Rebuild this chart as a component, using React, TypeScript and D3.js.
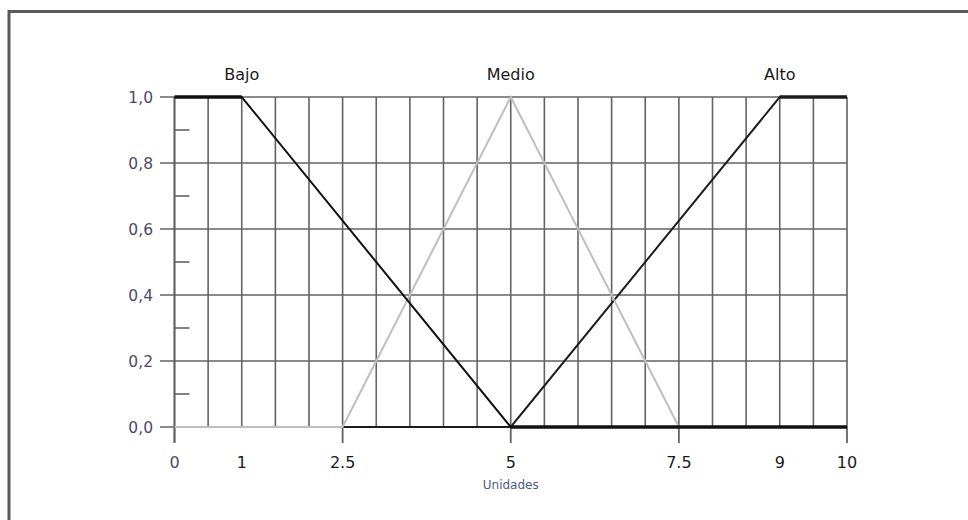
import { useMemo } from 'react'
import * as d3 from 'd3'

// membership functions
const bajoX = [0, 1, 5, 10]
const bajoY = [1, 1, 0, 0]
const medioX = [0, 2.5, 5, 7.5, 10]
const medioY = [0, 0, 1, 0, 0]
const altoX = [0, 5, 9, 10]
const altoY = [0, 0, 1, 1]

const setNames = ['Bajo', 'Medio', 'Alto']
const setPeaks = [1, 5, 9]

const xTickLabels = [0, 1, 2.5, 5, 7.5, 9, 10]
const xMajorTicks = [0, 2.5, 5, 7.5, 10]
const yTicks = [0, 0.2, 0.4, 0.6, 0.8, 1.0]
const yMinorTicks = [0.1, 0.3, 0.5, 0.7, 0.9]
const xAxisTitle = 'Unidades'

const W = 968
const H = 520
const FONT = '"DejaVu Sans", Verdana, sans-serif'

type Pt = [number, number]

export default function App() {
  const x = d3.scaleLinear().domain([0, 10]).range([174.5, 847])
  const y = d3.scaleLinear().domain([0, 1]).range([427, 97])

  const series = useMemo(
    () => [
      // drawn in this order so the overlaps look like the original
      { pts: altoX.map((v, i) => [v, altoY[i]] as Pt), color: '#1c1c1c', heavy: [1] },
      { pts: medioX.map((v, i) => [v, medioY[i]] as Pt), color: '#bfbfbf', heavy: [] as number[] },
      { pts: bajoX.map((v, i) => [v, bajoY[i]] as Pt), color: '#111', heavy: [0, 1] },
    ],
    []
  )

  const line = d3
    .line<Pt>()
    .x((d) => x(d[0]))
    .y((d) => y(d[1]))

  const gridX = d3.range(0, 10.001, 0.5)
  const gridColor = '#636363'

  return (
    <svg
      width={W}
      height={H}
      style={{ position: 'absolute', left: 0, top: 0, display: 'block', background: '#fff' }}
    >
      {/* outer frame, cut at right and bottom edges */}
      <rect x={9} y={11.5} width={W + 20} height={H + 20} fill="none" stroke="#5a5a5a" strokeWidth={3} />

      {/* vertical grid */}
      {gridX.map((v) => (
        <line key={'gx' + v} x1={x(v)} x2={x(v)} y1={y(1)} y2={y(0)} stroke={gridColor} strokeWidth={1.6} />
      ))}
      {/* horizontal grid + major y ticks */}
      {yTicks.map((v) => (
        <line key={'gy' + v} x1={160} x2={x(10)} y1={y(v)} y2={y(v)} stroke={gridColor} strokeWidth={1.6} />
      ))}
      {/* y axis line */}
      <line x1={x(0)} x2={x(0)} y1={y(1)} y2={443} stroke={gridColor} strokeWidth={1.8} />
      {/* minor y ticks pointing inward */}
      {yMinorTicks.map((v) => (
        <line key={'my' + v} x1={x(0)} x2={x(0) + 15} y1={y(v)} y2={y(v)} stroke={gridColor} strokeWidth={1.6} />
      ))}
      {/* major x ticks */}
      {xMajorTicks.map((v) => (
        <line key={'mx' + v} x1={x(v)} x2={x(v)} y1={y(0)} y2={443} stroke={gridColor} strokeWidth={1.8} />
      ))}

      {/* series */}
      {series.map((s, i) => (
        <g key={i}>
          <path d={line(s.pts) || ''} fill="none" stroke={s.color} strokeWidth={2} />
          {s.pts.slice(1).map((p, j) => {
            const a = s.pts[j]
            if (a[1] !== p[1] || !s.heavy.includes(p[1])) return null
            return (
              <line
                key={j}
                x1={x(a[0])}
                x2={x(p[0])}
                y1={y(p[1])}
                y2={y(p[1])}
                stroke={s.color}
                strokeWidth={3.6}
              />
            )
          })}
        </g>
      ))}

      {/* set names */}
      {setNames.map((n, i) => (
        <text
          key={n}
          x={x(setPeaks[i])}
          y={80}
          textAnchor="middle"
          fontFamily={FONT}
          fontSize={16}
          fill="#1a1a1a"
        >
          {n}
        </text>
      ))}

      {/* y tick labels */}
      {yTicks.map((v) => (
        <text
          key={'yl' + v}
          x={153}
          y={y(v)}
          dy="0.36em"
          textAnchor="end"
          fontFamily={FONT}
          fontSize={15.5}
          fill="#4d4a68"
        >
          {d3.format('.1f')(v).replace('.', ',')}
        </text>
      ))}

      {/* x tick labels */}
      {xTickLabels.map((v) => (
        <text
          key={'xl' + v}
          x={x(v)}
          y={468}
          textAnchor="middle"
          fontFamily={FONT}
          fontSize={16}
          fill={v === 0 ? '#4d4a68' : '#1a1a1a'}
        >
          {String(v)}
        </text>
      ))}

      <text x={x(5)} y={489} textAnchor="middle" fontFamily={FONT} fontSize={12} fill="#4a5a86">
        {xAxisTitle}
      </text>
    </svg>
  )
}
